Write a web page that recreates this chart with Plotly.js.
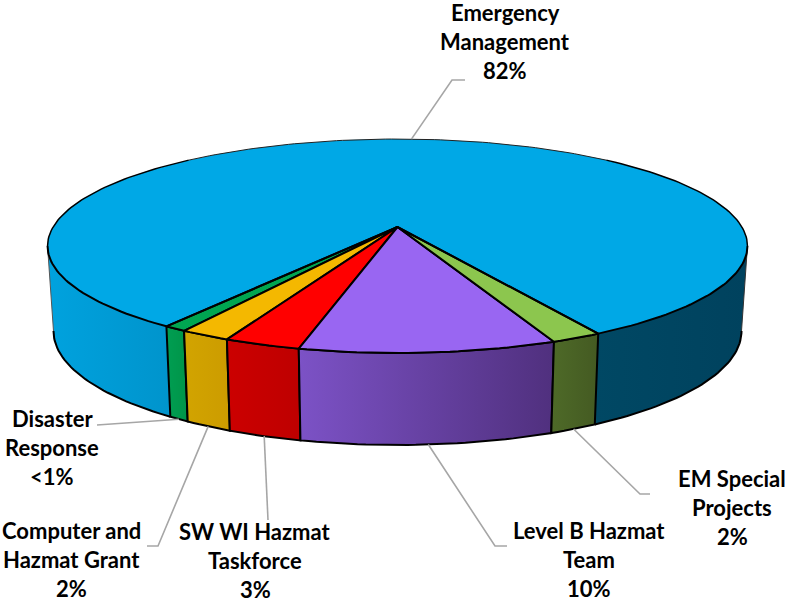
<!DOCTYPE html>
<html>
<head>
<meta charset="utf-8">
<script src="https://cdn.plot.ly/plotly-3.0.1.min.js"></script>
<style>html,body{margin:0;padding:0;background:#fff}#chart{width:789px;height:604px}</style>
</head>
<body>
<div id="chart"></div>
<script>
// Budget shares, listed in drawing order around the pie
const categories = ["Emergency Management", "Disaster Response", "Computer and Hazmat Grant", "SW WI Hazmat Taskforce", "Level B Hazmat Team", "EM Special Projects"];
const shares = [82, 0.9, 2, 3, 10, 2];
const shareLabels = ["82%", "<1%", "2%", "3%", "10%", "2%"];

// Label text, line by line, with the centre of each block and its first row
const labelLines = [["Emergency", "Management"], ["Disaster", "Response"], ["Computer and", "Hazmat Grant"], ["SW WI Hazmat", "Taskforce"], ["Level B Hazmat", "Team"], ["EM Special", "Projects"]];
const labelX = [505, 52, 71, 255, 589, 732];
const labelY = [12, 418, 530.5, 531, 530, 478];
const labelStep = 29.2;

// Leader elbows, from the slice edge out to the text
const leaderElbowX = [[452, 465], [100, 97], [158, 147], [268, 268], [495, 507], [640, 650]];
const leaderElbowY = [[80, 80], [425, 425], [546, 546], [520, 520], [546, 546], [494, 494]];

const topColors = ["#00A8E6", "#00A651", "#F4B800", "#FF0000", "#9966F2", "#8CC64E"];
const wallColors = [null, ["#009E52", "#009448"], ["#D2A400", "#CC9C00"], ["#CC0000", "#BE0000"], ["#7C52C6", "#50307E"], ["#4E6A28", "#445A22"]];
const blueWallLeft = ["#00A2DE", "#0094CC"];
const blueWallRight = ["#004864", "#00425E"];

// Perspective model of the tilted disc
const apex = {x: 397.5, y: 227};
const A = 344.4, B = 103.6, K = 0.1776, startPct = 8.2, wallScale = 0.983;

function rim(pct) {
  const t = 2 * Math.PI * pct / 100, u = Math.sin(t), v = Math.cos(t), w = 1 - K * v;
  return {x: apex.x + A * u / w, y: apex.y + B * v / w, v: v};
}
function foot(pct) {
  const p = rim(pct);
  return {x: apex.x + wallScale * (p.x - apex.x), y: p.y + 83.5 + 8.5 * p.v};
}
function arc(fn, from, to) {
  const n = Math.max(4, Math.ceil(Math.abs(to - from) * 3)), out = [];
  for (let i = 0; i <= n; i++) out.push(fn(from + (to - from) * i / n));
  return out;
}
const xs = pts => pts.map(p => p.x), ys = pts => pts.map(p => p.y);

const total = shares.reduce((a, b) => a + b, 0);
const bounds = [startPct];
shares.forEach(s => bounds.push(bounds[bounds.length - 1] + s / total * 100));
const silhouette = Math.atan2(Math.sqrt(1 - K * K), K) / (2 * Math.PI) * 100;

const traces = [];
function wall(from, to, colors, outlined) {
  const pts = arc(rim, from, to).concat(arc(foot, to, from));
  pts.push(pts[0]);
  traces.push({
    type: "scatter", mode: "lines", x: xs(pts), y: ys(pts), fill: "toself", hoverinfo: "skip",
    line: {color: "#000", width: outlined ? 2 : 0},
    fillgradient: {type: "horizontal", colorscale: [[0, colors[0]], [1, colors[1]]]}
  });
}
function stroke(pts, width, color) {
  traces.push({type: "scatter", mode: "lines", x: xs(pts), y: ys(pts), hoverinfo: "skip",
    line: {color: color, width: width}});
}

// Outer wall of the large slice, on both visible flanks
wall(bounds[0], silhouette, blueWallRight, false);
wall(100 - silhouette, bounds[1], blueWallLeft, false);
stroke(arc(foot, bounds[0], silhouette), 2, "#000");
stroke(arc(foot, 100 - silhouette, bounds[1]), 2, "#000");
stroke([rim(silhouette), foot(silhouette)], 1, "#333");
stroke([rim(100 - silhouette), foot(100 - silhouette)], 1, "#555");

// Walls of the small slices along the front
for (let i = 1; i < shares.length; i++) wall(bounds[i], bounds[i + 1], wallColors[i], true);

// Top faces
shares.forEach((s, i) => {
  const pts = [apex].concat(arc(rim, bounds[i], bounds[i + 1]));
  pts.push(apex);
  traces.push({
    type: "scatter", mode: "lines", x: xs(pts), y: ys(pts), fill: "toself", name: categories[i],
    fillcolor: topColors[i], hoverinfo: "skip",
    line: {color: "#000", width: i === 0 ? 0 : 2}
  });
});

// Outline of the large slice: heavier along the front, fine along the back
stroke([rim(bounds[0]), apex, rim(bounds[1])], 2, "#000");
stroke(arc(rim, bounds[0], silhouette), 2, "#000");
stroke(arc(rim, silhouette, 38), 1.5, "#000");
stroke(arc(rim, 38, 62), 1, "#222");
stroke(arc(rim, 62, 100 - silhouette), 1.5, "#000");
stroke(arc(rim, 100 - silhouette, bounds[1]), 2, "#000");

// Leader lines start at the middle of each slice's visible edge
shares.forEach((s, i) => {
  const mid = (bounds[i] + bounds[i + 1]) / 2;
  const start = i === 0 ? rim(mid) : foot(mid);
  traces.push({
    type: "scatter", mode: "lines", hoverinfo: "skip",
    x: [start.x].concat(leaderElbowX[i]), y: [start.y].concat(leaderElbowY[i]),
    line: {color: "#A6A6A6", width: 1.6}
  });
});

const annotations = [];
categories.forEach((c, i) => {
  labelLines[i].concat([shareLabels[i]]).forEach((line, j) => {
    annotations.push({
      x: labelX[i], y: labelY[i] + j * labelStep, xref: "x", yref: "y", showarrow: false,
      xanchor: "center", yanchor: "middle", text: line,
      font: {family: "Lato, 'Open Sans', sans-serif", size: 22, color: "#000", weight: 700}
    });
  });
});

const layout = {
  width: 789, height: 604, showlegend: false,
  margin: {l: 0, r: 0, t: 0, b: 0},
  paper_bgcolor: "#fff", plot_bgcolor: "#fff",
  xaxis: {range: [0, 789], visible: false, fixedrange: true},
  yaxis: {range: [604, 0], visible: false, fixedrange: true},
  annotations: annotations
};
Plotly.newPlot("chart", traces, layout, {displayModeBar: false, staticPlot: true});
</script>
</body>
</html>
